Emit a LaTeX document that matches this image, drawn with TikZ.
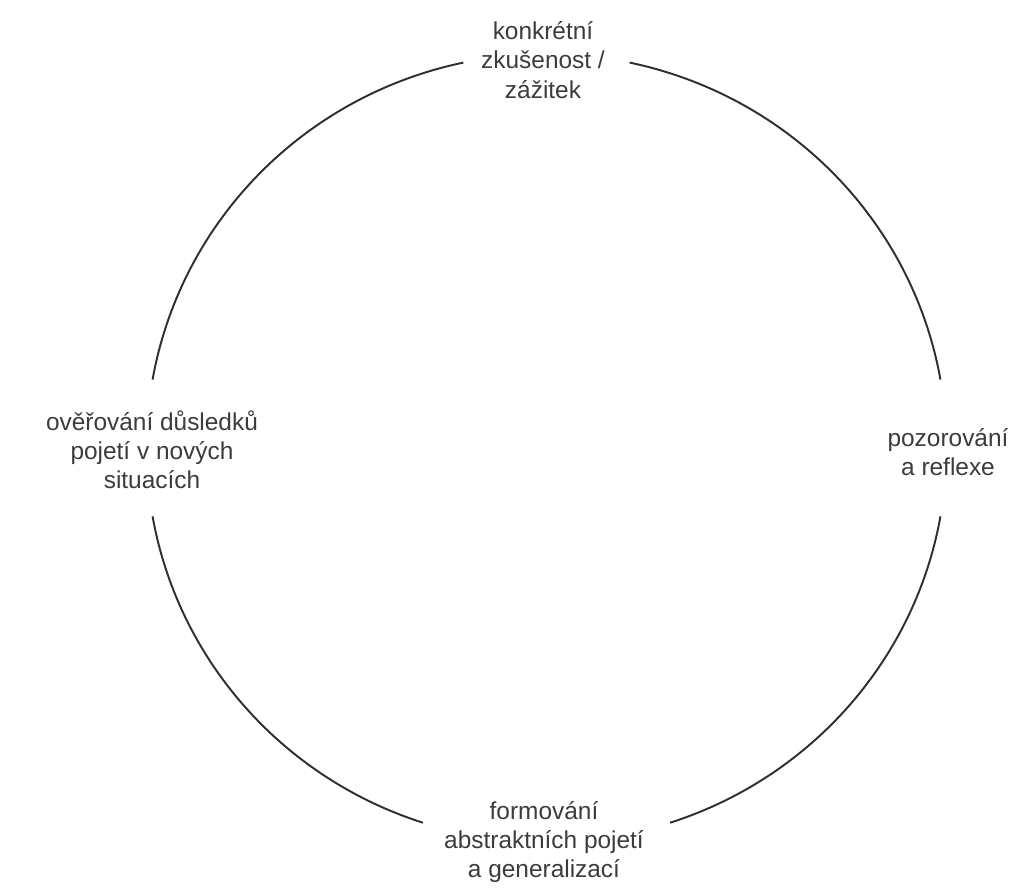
\documentclass[tikz,border=0pt]{standalone}
\usepackage{fontspec}
\setmainfont{Liberation Sans}
\definecolor{inkgray}{HTML}{3C3C40}
\definecolor{linegray}{HTML}{2E2E34}
\begin{document}
\begin{tikzpicture}
\useasboundingbox[fill=white] (0,0) rectangle (20.7,17.9);
\tikzset{lbl/.style={align=center, text=inkgray, font=\fontsize{13.9}{16.6}\selectfont, inner sep=0pt}}
\coordinate (mid) at (10.93,8.94);
\node[lbl] (zkus) at (10.86,16.7){konkrétní\\zkušenost /\\zážitek};
\node[lbl] (pozor) at (18.96,8.86){pozorování\\a reflexe};
\node[lbl] (formov) at (10.88,1.06){formování\\abstraktních pojetí\\a generalizací};
\node[lbl] (overov) at (3.04,8.9){ověřování důsledků\\pojetí v nových\\situacích};
\draw[linegray, line width=1.1pt] (mid) ++(10:8 and 7.88) arc[start angle=10, end angle=78, x radius=8, y radius=7.88];
\draw[linegray, line width=1.1pt] (mid) ++(102:8 and 7.88) arc[start angle=102, end angle=170, x radius=8, y radius=7.88];
\draw[linegray, line width=1.1pt] (mid) ++(190:8 and 7.88) arc[start angle=190, end angle=252, x radius=8, y radius=7.88];
\draw[linegray, line width=1.1pt] (mid) ++(288:8 and 7.88) arc[start angle=288, end angle=350, x radius=8, y radius=7.88];
\end{tikzpicture}
\end{document}
